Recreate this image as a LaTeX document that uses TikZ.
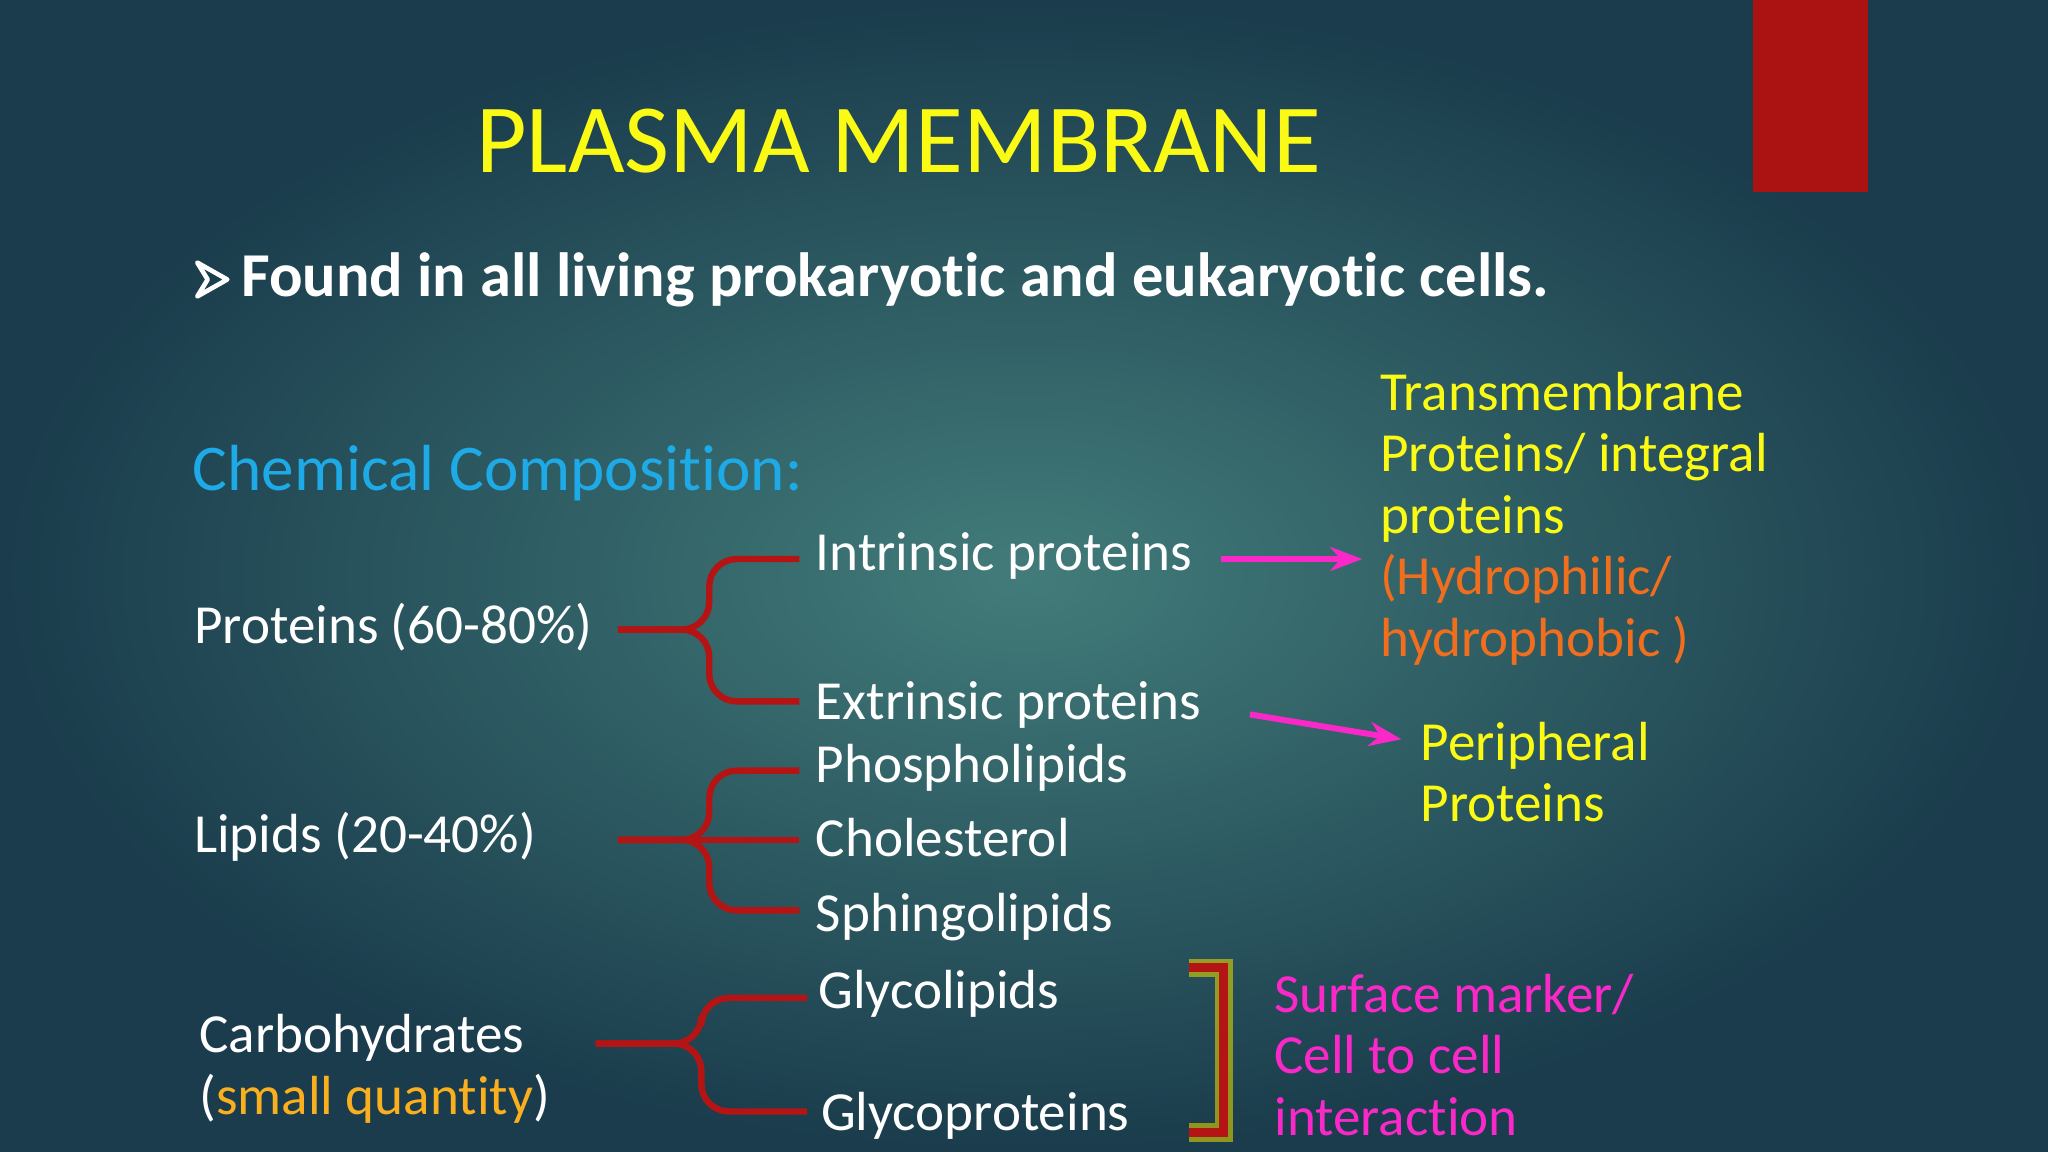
\documentclass[tikz,border=0pt]{standalone}
\usepackage{fontspec}
\setmainfont[Ligatures=NoCommon]{Carlito}
\usetikzlibrary{arrows.meta,positioning}
\definecolor{bgdark}{RGB}{26,60,76}
\definecolor{bglight}{RGB}{66,124,122}
\definecolor{titleyellow}{RGB}{250,250,20}
\definecolor{chemblue}{RGB}{30,170,230}
\definecolor{bracered}{RGB}{180,20,20}
\definecolor{arrowpink}{RGB}{250,40,200}
\definecolor{hydroorange}{RGB}{240,110,30}
\definecolor{qtyorange}{RGB}{250,175,30}
\tikzset{
  item/.style={anchor=west, text=white, font=\fontsize{12}{13.4}\selectfont, inner sep=0pt},
  note/.style={anchor=north west, text=titleyellow, align=left, font=\fontsize{12}{13.4}\selectfont, inner sep=0pt},
  brace/.style={draw=bracered, line width=1.4pt, rounded corners=6pt},
  link/.style={draw=arrowpink, line width=1.3pt, -{Stealth[length=7pt]}}
}
\begin{document}
\begin{tikzpicture}[x=0.01cm,y=-0.01cm]
\useasboundingbox (0,0) rectangle (1568,882);
\shade[inner color=bglight, outer color=bgdark] (0,0) rectangle (1568,882);
\fill[bracered!95!black] (1342,0) rectangle (1430,147);
% title
\node[text=titleyellow, font=\fontsize{21.3}{25}\selectfont] (title) at (688,108) {PLASMA MEMBRANE};
\draw[white, line width=1pt, line join=round] (151,201) -- (174,214) -- (151,227) -- (159,214) -- cycle;
\node[anchor=west, text=white, font=\bfseries\fontsize{13.6}{16}\selectfont, inner sep=0pt] (found) at (184,214) {Found in all living prokaryotic and eukaryotic cells.};
\node[anchor=west, text=chemblue, font=\fontsize{14.2}{17}\selectfont, inner sep=0pt] (chem) at (147,362) {Chemical Composition:};
% groups
\node[item] (prot) at (148,480) {Proteins (60-80\%)};
\node[item] (lip) at (148,641) {Lipids (20-40\%)};
\node[item, anchor=north west, align=left] (carb) at (152,776) {Carbohydrates\\({\color{qtyorange}small quantity})};
% members
\node[item] (intr) at (624,426) {Intrinsic proteins};
\node[item] (extr) at (624,540) {Extrinsic proteins};
\node[item] (phos) at (624,588) {Phospholipids};
\node[item] (chol) at (624,641) {Cholesterol};
\node[item] (sphi) at (624,702) {Sphingolipids};
\node[item] (glyl) at (626,761) {Glycolipids};
\node[item] (glyp) at (628,854) {Glycoproteins};
% braces
\draw[brace] (473,482) -- (543,482) |- (612,428);
\draw[brace] (473,482) -- (543,482) |- (612,537);
\draw[brace] (473,643) -- (543,643) |- (612,590);
\draw[brace] (473,643) -- (612,643);
\draw[brace] (473,643) -- (543,643) |- (612,697);
\draw[brace] (456,799) -- (537,799) |- (618,764);
\draw[brace] (456,799) -- (537,799) |- (618,851);
% notes
\node[note] (trans) at (1056,284) {Transmembrane\\Proteins/ integral\\proteins\\{\color{hydroorange}(Hydrophilic/}\\{\color{hydroorange}hydrophobic )}};
\node[note] (peri) at (1087,552) {Peripheral\\Proteins};
\node[note, text=arrowpink] (surf) at (975,745) {Surface marker/\\Cell to cell\\interaction};
\coordinate (a1) at (935,428);
\coordinate (b1) at (1043,428);
\coordinate (a2) at (957,547);
\coordinate (b2) at (1073,566);
\draw[link] (a1) -- (b1);
\draw[link] (a2) -- (b2);
% bracket
\draw[yellow!70!olive, line width=4pt, opacity=0.6] (910,741) -| (937,867) -- (910,867);
\draw[bracered, line width=2pt] (910,741) -| (937,867) -- (910,867);
\end{tikzpicture}
\end{document}
